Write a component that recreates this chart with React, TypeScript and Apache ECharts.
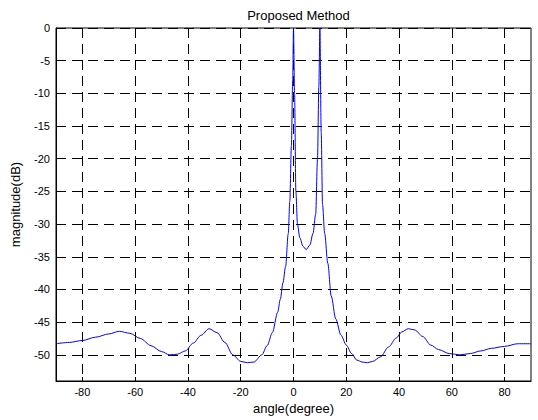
import React, { useEffect, useRef } from "react";
import * as echarts from "echarts";

const angles = [-90, -85, -80, -75, -70, -66, -62, -58, -54, -50, -47, -44, -41, -38, -35, -32, -29, -26, -23, -20, -17.5, -15, -12, -10, -8, -6, -5, -4, -3, -2, -1.4, -0.8, -0.3, 0, 0.4, 0.9, 1.5, 2.4, 3.6, 4.8, 6.2, 7.4, 8.4, 9.1, 9.6, 10, 10.5, 11, 11.8, 13, 14.3, 16, 18, 20, 22, 24, 26, 28, 30, 33, 36, 39, 41, 43.5, 46, 49, 52, 55, 59, 63, 67, 71, 75, 80, 85, 90];
const magnitudes = [-48.3, -48.1, -47.8, -47.3, -46.8, -46.4, -46.7, -47.5, -48.6, -49.5, -50.0, -49.9, -49.4, -48.2, -47.0, -46.0, -46.6, -48.1, -50.0, -51.0, -51.2, -51.1, -50.0, -48.6, -46.6, -43.5, -41.5, -39.0, -36.5, -31.5, -26.5, -18, -8, 0, -10, -25, -30, -32.1, -33.4, -33.9, -33.2, -31.4, -28.5, -20, -9, 0, -16, -27, -31.4, -36, -41, -44.5, -47, -48.5, -49.8, -50.8, -51.1, -51.2, -51.0, -50.3, -48.8, -47.4, -46.5, -46.0, -46.2, -47.2, -48.5, -49.2, -49.8, -50.0, -49.8, -49.4, -49.0, -48.7, -48.3, -48.3];
const xTicks = [-80, -60, -40, -20, 0, 20, 40, 60, 80];
const yTicks = [0, -5, -10, -15, -20, -25, -30, -35, -40, -45, -50];

const FONT = "Liberation Sans, Arial, sans-serif";

export default function App() {
  const ref = useRef<HTMLDivElement>(null);
  useEffect(() => {
    if (!ref.current) return;
    const chart = echarts.init(ref.current, null, { renderer: "svg" });
    const split = { show: true, lineStyle: { color: "#000", type: [10, 6], width: 1 } };
    chart.setOption({
      animation: false,
      backgroundColor: "#fff",
      title: {
        text: "Proposed Method",
        left: 293.5,
        textAlign: "center",
        top: 4,
        textStyle: { fontFamily: FONT, fontSize: 13, fontWeight: "normal", color: "#000" },
      },
      grid: { left: 56, right: 7, top: 28, bottom: 39, show: true, borderColor: "#000", borderWidth: 1, backgroundColor: "#fff" },
      xAxis: {
        type: "value",
        min: -90,
        max: 90,
        name: "angle(degree)",
        nameLocation: "middle",
        nameGap: 21,
        nameTextStyle: { fontFamily: FONT, fontSize: 13, color: "#000" },
        axisLine: { show: true, onZero: false, lineStyle: { color: "#000" } },
        axisTick: { show: true, inside: true, length: 4, customValues: xTicks, lineStyle: { color: "#000" } },
        axisLabel: { customValues: xTicks, fontFamily: FONT, fontSize: 11, color: "#000", margin: 5 },
        splitLine: split,
      },
      yAxis: {
        type: "value",
        min: -54,
        max: 0,
        name: "magnitude(dB)",
        nameLocation: "middle",
        nameGap: 34,
        nameTextStyle: { fontFamily: FONT, fontSize: 13, color: "#000" },
        axisLine: { show: true, onZero: false, lineStyle: { color: "#000" } },
        axisTick: { show: true, inside: true, length: 4, customValues: yTicks, lineStyle: { color: "#000" } },
        axisLabel: { customValues: yTicks, fontFamily: FONT, fontSize: 11, color: "#000", margin: 6 },
        splitLine: split,
      },
      series: [
        {
          type: "line",
          data: angles.map((a, i) => [a, magnitudes[i]]),
          showSymbol: false,
          symbol: "none",
          smooth: 0.3,
          smoothMonotone: "x",
          lineStyle: { color: "#0000ff", width: 1 },
          clip: true,
        },
      ],
    });
    return () => chart.dispose();
  }, []);
  return <div ref={ref} style={{ position: "fixed", left: 0, top: 0, width: 538, height: 420 }} />;
}
